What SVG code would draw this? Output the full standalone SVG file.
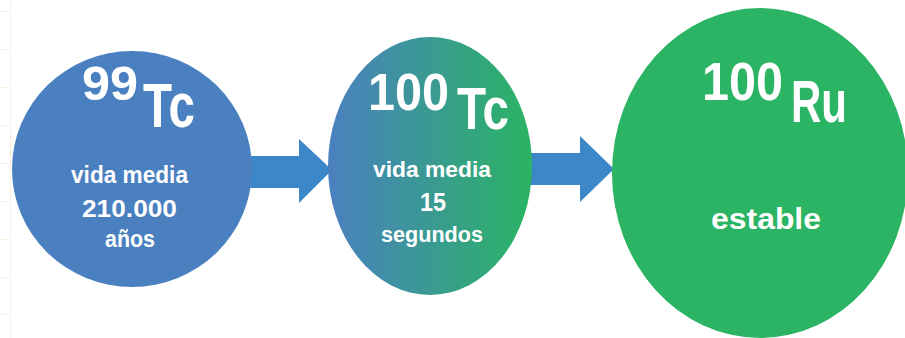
<svg xmlns="http://www.w3.org/2000/svg" width="905" height="338" viewBox="0 0 905 338">
  <defs>
    <linearGradient id="g2" x1="0" y1="0" x2="1" y2="0">
      <stop offset="0" stop-color="#4a80c0"/>
      <stop offset="1" stop-color="#2ab463"/>
    </linearGradient>
    <style>
      .grid { stroke: #fcefe4; stroke-width: 1; fill: none; }
      .arrow { fill: #3b87c7; }
      .t { font-family: "Liberation Sans Narrow", "Liberation Sans", Arial, sans-serif; font-weight: bold; fill: #ffffff; }
    </style>
  </defs>
  <rect width="905" height="338" fill="#ffffff"/>
  <g id="background">
    <line class="grid" x1="10.5" y1="0" x2="10.5" y2="338"/>
    <path class="grid" d="M0 11.5H11M0 49.5H11M0 87.5H11M0 125.5H11M0 163.5H11M0 201.5H11M0 239.5H11M0 277.5H11M0 314.5H11"/>
  </g>
  <g id="connectors">
    <polygon class="arrow" points="240,156 299,156 299,139 332,170 299,203 299,188 240,188"/>
    <polygon class="arrow" points="520,153 580,153 580,136 614,169 580,202 580,185 520,185"/>
  </g>
  <g id="tc99">
    <ellipse cx="132" cy="169" rx="120" ry="118" fill="#4a80c0"/>
    <text class="t" x="82" y="100" font-size="49" textLength="56" lengthAdjust="spacingAndGlyphs">99</text>
    <text class="t" x="143" y="127" font-size="63" textLength="52" lengthAdjust="spacingAndGlyphs">Tc</text>
    <text class="t" x="71" y="183" font-size="23" textLength="117" lengthAdjust="spacingAndGlyphs">vida media</text>
    <text class="t" x="82" y="217" font-size="24" textLength="95" lengthAdjust="spacingAndGlyphs">210.000</text>
    <text class="t" x="105" y="247" font-size="23" textLength="50" lengthAdjust="spacingAndGlyphs">años</text>
  </g>
  <g id="tc100">
    <ellipse cx="430" cy="166" rx="102" ry="129" fill="url(#g2)"/>
    <text class="t" x="368" y="110" font-size="52" textLength="81" lengthAdjust="spacingAndGlyphs">100</text>
    <text class="t" x="457" y="129" font-size="59" textLength="52" lengthAdjust="spacingAndGlyphs">Tc</text>
    <text class="t" x="373" y="177" font-size="22" textLength="118" lengthAdjust="spacingAndGlyphs">vida media</text>
    <text class="t" x="420" y="211" font-size="25" textLength="26" lengthAdjust="spacingAndGlyphs">15</text>
    <text class="t" x="381" y="242" font-size="22" textLength="102" lengthAdjust="spacingAndGlyphs">segundos</text>
  </g>
  <g id="ru100">
    <ellipse cx="760" cy="173" rx="148" ry="165" fill="#2ab463"/>
    <text class="t" x="702" y="100" font-size="54" textLength="81" lengthAdjust="spacingAndGlyphs">100</text>
    <text class="t" x="791" y="122" font-size="59" textLength="56" lengthAdjust="spacingAndGlyphs">Ru</text>
    <text class="t" x="711" y="229" font-size="29" textLength="110" lengthAdjust="spacingAndGlyphs">estable</text>
  </g>
</svg>
